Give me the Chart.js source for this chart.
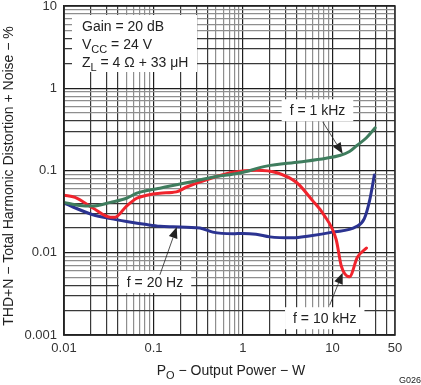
<!DOCTYPE html>
<html>
<head>
<meta charset="utf-8">
<script src="https://cdn.jsdelivr.net/npm/chart.js@4.4.0/dist/chart.umd.min.js"></script>
<style>
    html, body { margin: 0; padding: 0; background: #fff; }
</style>
</head>
<body>
<canvas id="myChart" width="421" height="385"></canvas>
<script>
// output power (W) vs THD+N (%)
var power1k = [0.01, 0.015, 0.021, 0.033, 0.05, 0.065, 0.091, 0.118, 0.25, 0.46, 0.92, 1.83, 4.3, 8.5, 12, 15.5, 18.6, 24, 30];
var thd1k   = [0.041, 0.0376, 0.037, 0.041, 0.046, 0.053, 0.058, 0.061, 0.072, 0.083, 0.093, 0.113, 0.127, 0.141, 0.152, 0.17, 0.2, 0.25, 0.33];

var power10k = [0.01, 0.0133, 0.021, 0.033, 0.037, 0.05, 0.065, 0.084, 0.118, 0.18, 0.235, 0.39, 0.77, 1.42, 2.4, 4.0, 6.0, 8.0, 11, 12.6, 15.5, 19, 24];
var thd10k   = [0.05, 0.047, 0.035, 0.027, 0.027, 0.037, 0.046, 0.05, 0.053, 0.055, 0.063, 0.077, 0.095, 0.101, 0.094, 0.071, 0.043, 0.029, 0.0145, 0.0068, 0.0051, 0.0088, 0.0114];

var power20 = [0.01, 0.021, 0.033, 0.05, 0.084, 0.118, 0.165, 0.33, 0.46, 0.77, 1.0, 1.4, 2.0, 3.6, 5.5, 10, 18.5, 22.7, 26, 29.4];
var thd20   = [0.04, 0.029, 0.026, 0.024, 0.022, 0.021, 0.0207, 0.02, 0.0178, 0.017, 0.0172, 0.0168, 0.0156, 0.0152, 0.016, 0.0178, 0.0208, 0.026, 0.043, 0.088];

var xTickLabels = [0.01, 0.1, 1, 10, 50];
var yTickLabels = [0.001, 0.01, 0.1, 1, 10];

var FONT = '"Liberation Sans", Arial, sans-serif';

function decadeTicks(minExp, maxExp, maxVal) {
    var out = [];
    for (var e = minExp; e <= maxExp; e++) {
        for (var m = 1; m <= 9; m++) {
            var v = parseFloat((m * Math.pow(10, e)).toPrecision(3));
            if (v <= maxVal + 1e-9) out.push(v);
        }
    }
    if (out.indexOf(maxVal) < 0) out.push(maxVal);
    return out;
}

function isIn(list, v) {
    return list.some(function (l) { return Math.abs(Math.log10(l) - Math.log10(v)) < 1e-6; });
}

function gridColor(v) {
    var m = Math.round(v / Math.pow(10, Math.floor(Math.log10(v) + 1e-9)));
    if (m === 1) return '#1c1c1c';
    if (m <= 4) return '#383838';
    return '#8e8e8e';
}

function pts(xs, ys) {
    return xs.map(function (x, i) { return {x: x, y: ys[i]}; });
}

// labels with arrows, given in data units
var notes = [
    {text: 'f = 1 kHz', x: 6.8, y: 0.54, tailX: 7.8, tailY: 0.39, tipX: 13, tipY: 0.16},
    {text: 'f = 20 Hz', x: 0.104, y: 0.0044, tailX: 0.118, tailY: 0.0054, tipX: 0.182, tipY: 0.0205},
    {text: 'f = 10 kHz', x: 8.2, y: 0.0016, tailX: 9.3, tailY: 0.0023, tipX: 13, tipY: 0.0057}
];

function drawSub(ctx, x, y, main, sub, rest, size) {
    ctx.font = size + 'px ' + FONT;
    ctx.fillText(main, x, y);
    x += ctx.measureText(main).width;
    ctx.font = (size - 3) + 'px ' + FONT;
    ctx.fillText(sub, x, y + 3.5);
    x += ctx.measureText(sub).width;
    ctx.font = size + 'px ' + FONT;
    ctx.fillText(rest, x, y);
}

function subWidth(ctx, main, sub, rest, size) {
    ctx.font = size + 'px ' + FONT;
    var w = ctx.measureText(main).width + ctx.measureText(rest).width;
    ctx.font = (size - 3) + 'px ' + FONT;
    return w + ctx.measureText(sub).width;
}

var extras = {
    id: 'extras',
    beforeDatasetsDraw: function (chart) {
        var ctx = chart.ctx, a = chart.chartArea;
        var xs = chart.scales.x, ys = chart.scales.y;
        ctx.save();
        // condition box
        ctx.fillStyle = '#fff';
        ctx.fillRect(a.left + 8, a.top + 9, 125, 57);
        // note boxes
        ctx.font = '14px ' + FONT;
        notes.forEach(function (n) {
            var cx = xs.getPixelForValue(n.x), cy = ys.getPixelForValue(n.y);
            var w = ctx.measureText(n.text).width + 16;
            ctx.fillRect(cx - w / 2, cy - 11, w, 22);
        });
        ctx.restore();
    },
    afterDatasetsDraw: function (chart) {
        var ctx = chart.ctx, a = chart.chartArea;
        var xs = chart.scales.x, ys = chart.scales.y;
        ctx.save();
        // frame
        ctx.strokeStyle = '#222';
        ctx.lineWidth = 1.5;
        ctx.strokeRect(a.left, a.top, a.right - a.left, a.bottom - a.top);

        ctx.fillStyle = '#222';
        ctx.textBaseline = 'alphabetic';
        ctx.textAlign = 'left';
        ctx.font = '14px ' + FONT;
        ctx.fillText('Gain = 20 dB', a.left + 18, a.top + 25);
        drawSub(ctx, a.left + 18, a.top + 43, 'V', 'CC', ' = 24 V', 14);
        drawSub(ctx, a.left + 18, a.top + 61, 'Z', 'L', ' = 4 \u03A9 + 33 \u03BCH', 14);

        // notes with arrows
        notes.forEach(function (n) {
            var cx = xs.getPixelForValue(n.x), cy = ys.getPixelForValue(n.y);
            ctx.font = '14px ' + FONT;
            ctx.textAlign = 'center';
            ctx.textBaseline = 'middle';
            ctx.fillStyle = '#222';
            ctx.fillText(n.text, cx, cy + 1);

            var tx = xs.getPixelForValue(n.tailX), ty = ys.getPixelForValue(n.tailY);
            var hx = xs.getPixelForValue(n.tipX), hy = ys.getPixelForValue(n.tipY);
            var ang = Math.atan2(hy - ty, hx - tx);
            var len = 11, half = 4.5;
            var bx = hx - len * Math.cos(ang), by = hy - len * Math.sin(ang);
            ctx.strokeStyle = '#222';
            ctx.lineWidth = 0.8;
            ctx.beginPath();
            ctx.moveTo(tx, ty);
            ctx.lineTo(bx, by);
            ctx.stroke();
            ctx.beginPath();
            ctx.moveTo(hx, hy);
            ctx.lineTo(bx + half * Math.sin(ang), by - half * Math.cos(ang));
            ctx.lineTo(bx - half * Math.sin(ang), by + half * Math.cos(ang));
            ctx.closePath();
            ctx.fill();
        });

        // axis titles
        ctx.fillStyle = '#222';
        ctx.textBaseline = 'alphabetic';
        ctx.textAlign = 'left';
        var tw = subWidth(ctx, 'P', 'O', ' \u2212 Output Power \u2212 W', 14);
        drawSub(ctx, 231 - tw / 2, 375, 'P', 'O', ' \u2212 Output Power \u2212 W', 14);

        ctx.save();
        ctx.translate(9, 176);
        ctx.rotate(-Math.PI / 2);
        ctx.textAlign = 'center';
        ctx.textBaseline = 'middle';
        ctx.font = '14px ' + FONT;
        ctx.fillText('THD+N \u2212 Total Harmonic Distortion + Noise \u2212 %', 0, 0);
        ctx.restore();

        ctx.font = '9px ' + FONT;
        ctx.textAlign = 'right';
        ctx.fillText('G026', 421, 383);
        ctx.restore();
    }
};

var ctx = document.getElementById('myChart').getContext('2d');
var myChart = new Chart(ctx, {
    type: 'line',
    data: {
        datasets: [{
            label: 'f = 1 kHz',
            data: pts(power1k, thd1k),
            borderColor: '#3f7d5e',
            borderWidth: 3
        }, {
            label: 'f = 10 kHz',
            data: pts(power10k, thd10k),
            borderColor: '#f0242d',
            borderWidth: 3
        }, {
            label: 'f = 20 Hz',
            data: pts(power20, thd20),
            borderColor: '#2b3391',
            borderWidth: 3
        }]
    },
    options: {
        responsive: false,
        animation: false,
        devicePixelRatio: 1,
        layout: { padding: { left: 0, top: 6, right: 26, bottom: 0 } },
        elements: {
            point: { radius: 0 },
            line: { cubicInterpolationMode: 'monotone', borderCapStyle: 'round', borderJoinStyle: 'round' }
        },
        plugins: {
            legend: { display: false },
            tooltip: { enabled: false }
        },
        scales: {
            x: {
                type: 'logarithmic',
                min: 0.01,
                max: 50,
                afterBuildTicks: function (scale) {
                    scale.ticks = decadeTicks(-2, 1, 50).map(function (v) { return {value: v}; });
                },
                afterFit: function (scale) {
                    scale.height = 50;
                    scale.paddingLeft = 0;
                    scale.paddingRight = 0;
                },
                ticks: {
                    autoSkip: false,
                    maxRotation: 0,
                    padding: 6,
                    color: '#333',
                    font: { family: FONT, size: 13 },
                    callback: function (v) { return isIn(xTickLabels, v) ? String(v) : ''; }
                },
                grid: {
                    drawTicks: false,
                    lineWidth: 1.2,
                    color: function (c) { return c.tick ? gridColor(c.tick.value) : '#999'; }
                },
                border: { display: true, color: '#222', width: 1.5 }
            },
            y: {
                type: 'logarithmic',
                min: 0.001,
                max: 10,
                afterBuildTicks: function (scale) {
                    scale.ticks = decadeTicks(-3, 1, 10).map(function (v) { return {value: v}; });
                },
                afterFit: function (scale) {
                    scale.width = 64;
                    scale.paddingTop = 0;
                    scale.paddingBottom = 0;
                },
                ticks: {
                    autoSkip: false,
                    padding: 7,
                    color: '#333',
                    font: { family: FONT, size: 13 },
                    callback: function (v) { return isIn(yTickLabels, v) ? String(v) : ''; }
                },
                grid: {
                    drawTicks: false,
                    lineWidth: 1.2,
                    color: function (c) { return c.tick ? gridColor(c.tick.value) : '#999'; }
                },
                border: { display: true, color: '#222', width: 1.5 }
            }
        }
    },
    plugins: [extras]
});
</script>
</body>
</html>
